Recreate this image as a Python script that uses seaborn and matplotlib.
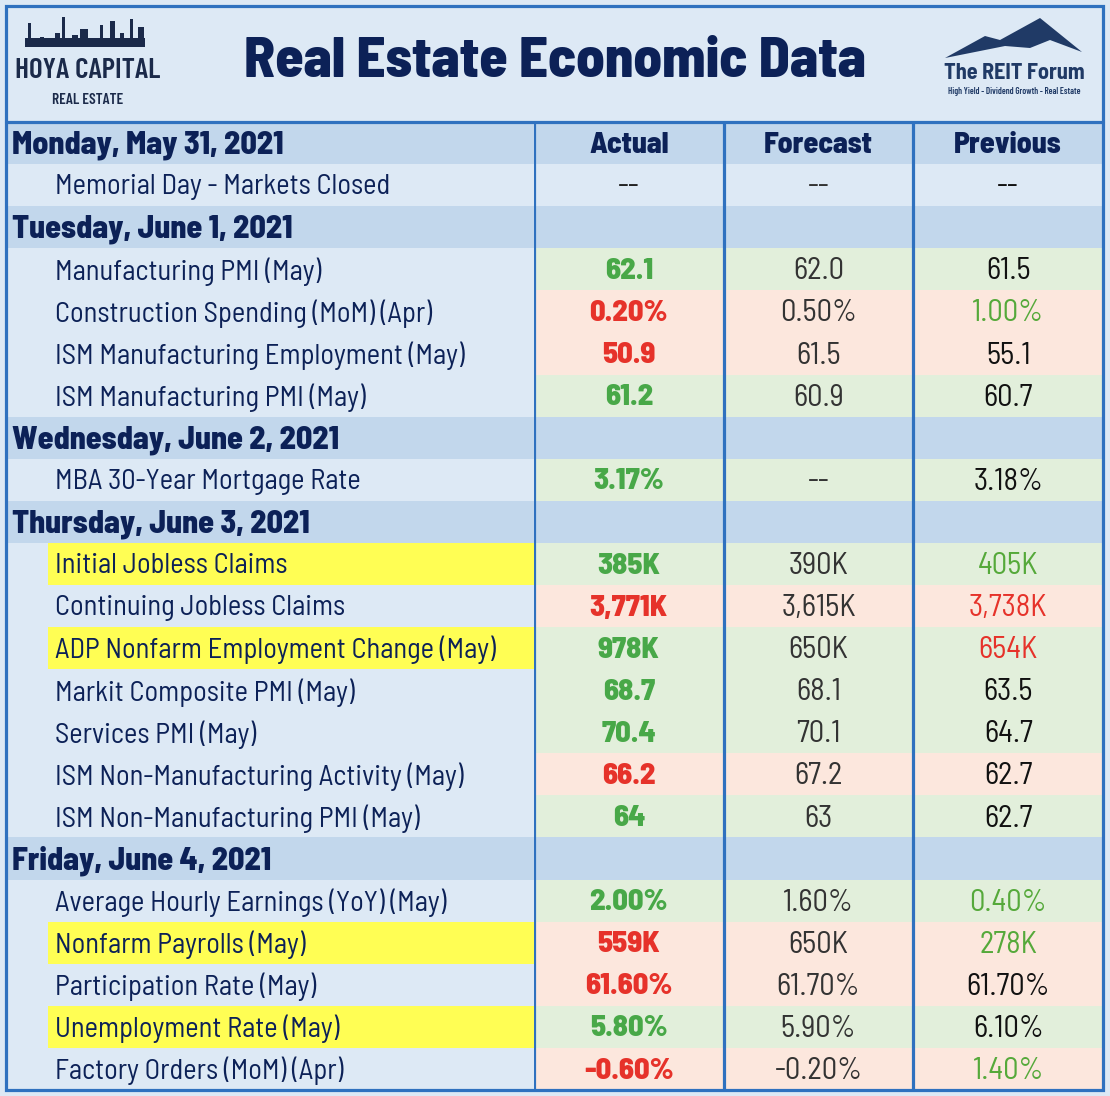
import numpy as np
import pandas as pd
import matplotlib
matplotlib.use('Agg')
import matplotlib.pyplot as plt
from matplotlib.colors import ListedColormap
from matplotlib.patches import Rectangle, Polygon
import seaborn as sns

# --- data ---
labels = [
    'Monday, May 31, 2021', 'Memorial Day - Markets Closed',
    'Tuesday, June 1, 2021', 'Manufacturing PMI (May)',
    'Construction Spending (MoM) (Apr)', 'ISM Manufacturing Employment (May)',
    'ISM Manufacturing PMI (May)',
    'Wednesday, June 2, 2021', 'MBA 30-Year Mortgage Rate',
    'Thursday, June 3, 2021', 'Initial Jobless Claims', 'Continuing Jobless Claims',
    'ADP Nonfarm Employment Change (May)', 'Markit Composite PMI (May)',
    'Services PMI (May)', 'ISM Non-Manufacturing Activity (May)',
    'ISM Non-Manufacturing PMI (May)',
    'Friday, June 4, 2021', 'Average Hourly Earnings (YoY) (May)',
    'Nonfarm Payrolls (May)', 'Participation Rate (May)',
    'Unemployment Rate (May)', 'Factory Orders (MoM) (Apr)',
]
actual = ['', '--', '', '62.1', '0.20%', '50.9', '61.2', '', '3.17%', '',
          '385K', '3,771K', '978K', '68.7', '70.4', '66.2', '64', '',
          '2.00%', '559K', '61.60%', '5.80%', '-0.60%']
forecast = ['', '--', '', '62.0', '0.50%', '61.5', '60.9', '', '--', '',
            '390K', '3,615K', '650K', '68.1', '70.1', '67.2', '63', '',
            '1.60%', '650K', '61.70%', '5.90%', '-0.20%']
previous = ['', '--', '', '61.5', '1.00%', '55.1', '60.7', '', '3.18%', '',
            '405K', '3,738K', '654K', '63.5', '64.7', '62.7', '62.7', '',
            '0.40%', '278K', '61.70%', '6.10%', '1.40%']
# row type: day header, neutral, beat (g) or miss (r)
outcome = ['day', '', 'day', 'g', 'r', 'r', 'g', 'day', 'g', 'day',
           'g', 'r', 'g', 'g', 'g', 'r', 'g', 'day',
           'g', 'r', 'r', 'g', 'r']
prev_tone = ['', '', '', '', 'g', '', '', '', '', '',
             'g', 'r', 'r', '', '', '', '', '',
             'g', 'g', '', '', 'g']
highlight = [False] * 10 + [True, False, True] + [False] * 6 + [True, False, True, False]
columns = ['Actual', 'Forecast', 'Previous']

# --- colours ---
BG = '#dde9f5'
DAY = '#c2d7ec'
GREEN_BG = '#e2efdb'
RED_BG = '#fce7dd'
YELLOW = '#fffe54'
BORDER = '#2f71bf'
NAVY = '#0c2157'
GREEN = '#48a848'
RED = '#e6322a'
PREV_GREEN = '#55a93a'
tone_color = {'': '#111111', 'g': PREV_GREEN, 'r': RED}

sns.set_theme(style='white')
FONT = ['Barlow Semi Condensed', 'DejaVu Sans']
plt.rcParams['font.family'] = FONT

W, H = 1110, 1096
fig = plt.figure(figsize=(W / 100, H / 100), dpi=100, facecolor=BG)


def px_axes(x0, y0, x1, y1, **kw):
    return fig.add_axes([x0 / W, 1 - y1 / H, (x1 - x0) / W, (y1 - y0) / H], **kw)


TOP, BOT = 122, 1090
LEFT, SPLIT, RIGHT = 6, 534, 1103
YOFF = 0.55

code_map = {'': 0, 'day': 1, 'g': 2, 'r': 3}
codes = [code_map[o] for o in outcome]
cmap = ListedColormap([BG, DAY, GREEN_BG, RED_BG])

# label column
lab_df = pd.DataFrame({'label': [1 if o == 'day' else 0 for o in outcome]})
ax_l = px_axes(LEFT, TOP, SPLIT, BOT)
sns.heatmap(lab_df, ax=ax_l, cmap=cmap, vmin=-0.5, vmax=3.5, cbar=False,
            xticklabels=False, yticklabels=False)
indent = 42 / (SPLIT - LEFT)
for i, (lab, o, hl) in enumerate(zip(labels, outcome, highlight)):
    if hl:
        ax_l.add_patch(Rectangle((indent, i), 1 - indent, 1, color=YELLOW, lw=0, zorder=1))
    if o == 'day':
        ax_l.text(0.011, i + YOFF, lab, ha='left', va='center', fontsize=23,
                  fontweight='heavy', color=NAVY, zorder=2)
    else:
        ax_l.text(0.092, i + YOFF, lab, ha='left', va='center', fontsize=20.5,
                  color=NAVY, zorder=2)

# value columns
val_df = pd.DataFrame({c: codes for c in columns})
ax_v = px_axes(SPLIT, TOP, RIGHT, BOT)
sns.heatmap(val_df, ax=ax_v, cmap=cmap, vmin=-0.5, vmax=3.5, cbar=False,
            xticklabels=False, yticklabels=False)
for j, c in enumerate(columns):
    ax_v.text(j + 0.5, YOFF, c, ha='center', va='center', fontsize=21.5,
              fontweight='heavy', color=NAVY)
for i in range(len(labels)):
    if outcome[i] == 'day':
        continue
    a_col = {'g': GREEN, 'r': RED}.get(outcome[i], '#222222')
    a_w = 'heavy' if outcome[i] in ('g', 'r') else 'normal'
    ax_v.text(0.5, i + YOFF, actual[i], ha='center', va='center', fontsize=22,
              fontweight=a_w, color=a_col)
    ax_v.text(1.5, i + YOFF, forecast[i], ha='center', va='center', fontsize=22,
              color='#333333')
    ax_v.text(2.5, i + YOFF, previous[i], ha='center', va='center', fontsize=22,
              color=tone_color[prev_tone[i]])
for xv in [0.0, 1, 2]:
    ax_v.axvline(xv, color=BORDER, lw=2.3)

# overlay for header, logos and borders
ov = fig.add_axes([0, 0, 1, 1], facecolor='none')
ov.set_xlim(0, W)
ov.set_ylim(H, 0)
ov.axis('off')
ov.add_patch(Rectangle((LEFT, 6), RIGHT - LEFT, BOT - 6, fill=False, ec=BORDER, lw=2.3))
ov.plot([LEFT, RIGHT], [TOP, TOP], color=BORDER, lw=2.3)

ov.text(555, 62, 'Real Estate Economic Data', ha='center', va='center',
        fontsize=41, fontweight='heavy', color=NAVY)

# Hoya Capital logo (simplified skyline)
LOGO = '#1b2a4a'
COND = ['Barlow Condensed', 'DejaVu Sans']
ov.add_patch(Rectangle((25, 38), 120, 9, color=LOGO, lw=0))
for x, w, h in [(28, 3, 24), (40, 4, 10), (55, 5, 14), (62, 3, 30), (72, 6, 12),
                (80, 8, 18), (92, 4, 8), (100, 3, 22), (110, 5, 26), (120, 4, 14),
                (130, 3, 28), (138, 6, 20)]:
    ov.add_patch(Rectangle((x, 47 - h), w, h, color=LOGO, lw=0))
ov.text(88, 71, 'HOYA CAPITAL', ha='center', va='center', fontsize=21,
        fontweight='semibold', color=LOGO, family=COND)
ov.text(88, 100, 'REAL ESTATE', ha='center', va='center', fontsize=11,
        fontweight='semibold', color=LOGO, family=COND)

# The REIT Forum logo (simplified mountains)
ov.add_patch(Polygon([(945, 58), (985, 36), (1000, 40), (1040, 18), (1082, 52),
                      (1050, 40), (1030, 48), (1005, 46), (975, 52)], closed=True,
                     color='#203a66', lw=0))
ov.text(1014, 73, 'The REIT Forum', ha='center', va='center', fontsize=16,
        fontweight='bold', color='#203a66')
ov.text(1014, 92, 'High Yield - Dividend Growth - Real Estate', ha='center',
        va='center', fontsize=6.5, fontweight='semibold', color='#203a66',
        family=COND)

fig.savefig('out.png', dpi=100, facecolor=BG)
